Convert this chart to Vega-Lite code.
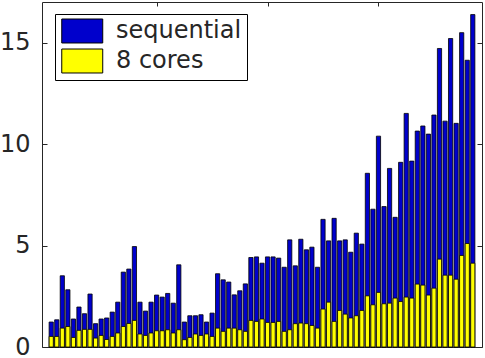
{
  "$schema": "https://vega.github.io/schema/vega-lite/v6.json",
  "width": 440,
  "height": 345,
  "autosize": {"type": "none"},
  "padding": {"left": 42, "top": 2, "right": 3, "bottom": 11},
  "background": "white",
  "config": {"view": {"stroke": null}, "axis": {"domainColor": "#262626", "tickColor": "#262626", "domainWidth": 1, "tickWidth": 1, "zindex": 1, "grid": false, "title": null}},
  "datasets": {
    "bars": [
      {"i":1,"s":"sequential","v":1.23},{"i":2,"s":"sequential","v":1.34},{"i":3,"s":"sequential","v":3.51},{"i":4,"s":"sequential","v":2.82},{"i":5,"s":"sequential","v":1.38},{"i":6,"s":"sequential","v":1.97},{"i":7,"s":"sequential","v":1.64},{"i":8,"s":"sequential","v":2.61},{"i":9,"s":"sequential","v":1.15},{"i":10,"s":"sequential","v":1.38},
      {"i":11,"s":"sequential","v":1.43},{"i":12,"s":"sequential","v":1.72},{"i":13,"s":"sequential","v":2.21},{"i":14,"s":"sequential","v":3.69},{"i":15,"s":"sequential","v":3.84},{"i":16,"s":"sequential","v":4.95},{"i":17,"s":"sequential","v":2.21},{"i":18,"s":"sequential","v":1.77},{"i":19,"s":"sequential","v":2.21},{"i":20,"s":"sequential","v":2.56},
      {"i":21,"s":"sequential","v":2.46},{"i":22,"s":"sequential","v":2.64},{"i":23,"s":"sequential","v":2.16},{"i":24,"s":"sequential","v":4.05},{"i":25,"s":"sequential","v":1.23},{"i":26,"s":"sequential","v":1.54},{"i":27,"s":"sequential","v":1.54},{"i":28,"s":"sequential","v":1.59},{"i":29,"s":"sequential","v":1.23},{"i":30,"s":"sequential","v":1.67},
      {"i":31,"s":"sequential","v":3.61},{"i":32,"s":"sequential","v":3.31},{"i":33,"s":"sequential","v":3.2},{"i":34,"s":"sequential","v":2.57},{"i":35,"s":"sequential","v":2.77},{"i":36,"s":"sequential","v":3.11},{"i":37,"s":"sequential","v":4.41},{"i":38,"s":"sequential","v":4.44},{"i":39,"s":"sequential","v":4.13},{"i":40,"s":"sequential","v":4.44},
      {"i":41,"s":"sequential","v":4.44},{"i":42,"s":"sequential","v":4.38},{"i":43,"s":"sequential","v":3.93},{"i":44,"s":"sequential","v":5.28},{"i":45,"s":"sequential","v":4.0},{"i":46,"s":"sequential","v":5.31},{"i":47,"s":"sequential","v":4.79},{"i":48,"s":"sequential","v":4.92},{"i":49,"s":"sequential","v":3.93},{"i":50,"s":"sequential","v":6.29},
      {"i":51,"s":"sequential","v":5.23},{"i":52,"s":"sequential","v":6.34},{"i":53,"s":"sequential","v":5.23},{"i":54,"s":"sequential","v":5.28},{"i":55,"s":"sequential","v":4.67},{"i":56,"s":"sequential","v":5.61},{"i":57,"s":"sequential","v":5.07},{"i":58,"s":"sequential","v":8.56},{"i":59,"s":"sequential","v":6.79},{"i":60,"s":"sequential","v":10.39},
      {"i":61,"s":"sequential","v":6.92},{"i":62,"s":"sequential","v":8.8},{"i":63,"s":"sequential","v":6.39},{"i":64,"s":"sequential","v":9.1},{"i":65,"s":"sequential","v":11.51},{"i":66,"s":"sequential","v":9.16},{"i":67,"s":"sequential","v":10.64},{"i":68,"s":"sequential","v":10.89},{"i":69,"s":"sequential","v":10.49},{"i":70,"s":"sequential","v":11.43},
      {"i":71,"s":"sequential","v":14.71},{"i":72,"s":"sequential","v":11.13},{"i":73,"s":"sequential","v":15.2},{"i":74,"s":"sequential","v":11.02},{"i":75,"s":"sequential","v":15.49},{"i":76,"s":"sequential","v":14.13},{"i":77,"s":"sequential","v":16.38},
      {"i":1,"s":"8 cores","v":0.52},{"i":2,"s":"8 cores","v":0.52},{"i":3,"s":"8 cores","v":0.93},{"i":4,"s":"8 cores","v":1.01},{"i":5,"s":"8 cores","v":0.47},{"i":6,"s":"8 cores","v":0.82},{"i":7,"s":"8 cores","v":0.87},{"i":8,"s":"8 cores","v":0.87},{"i":9,"s":"8 cores","v":0.44},{"i":10,"s":"8 cores","v":0.57},
      {"i":11,"s":"8 cores","v":0.37},{"i":12,"s":"8 cores","v":0.52},{"i":13,"s":"8 cores","v":0.69},{"i":14,"s":"8 cores","v":1.01},{"i":15,"s":"8 cores","v":1.16},{"i":16,"s":"8 cores","v":1.31},{"i":17,"s":"8 cores","v":0.64},{"i":18,"s":"8 cores","v":0.57},{"i":19,"s":"8 cores","v":0.69},{"i":20,"s":"8 cores","v":0.8},
      {"i":21,"s":"8 cores","v":0.8},{"i":22,"s":"8 cores","v":0.85},{"i":23,"s":"8 cores","v":0.69},{"i":24,"s":"8 cores","v":0.85},{"i":25,"s":"8 cores","v":0.36},{"i":26,"s":"8 cores","v":0.47},{"i":27,"s":"8 cores","v":0.64},{"i":28,"s":"8 cores","v":0.57},{"i":29,"s":"8 cores","v":0.64},{"i":30,"s":"8 cores","v":0.52},
      {"i":31,"s":"8 cores","v":0.93},{"i":32,"s":"8 cores","v":0.77},{"i":33,"s":"8 cores","v":0.93},{"i":34,"s":"8 cores","v":0.93},{"i":35,"s":"8 cores","v":0.85},{"i":36,"s":"8 cores","v":0.77},{"i":37,"s":"8 cores","v":1.31},{"i":38,"s":"8 cores","v":1.26},{"i":39,"s":"8 cores","v":1.38},{"i":40,"s":"8 cores","v":1.21},
      {"i":41,"s":"8 cores","v":1.21},{"i":42,"s":"8 cores","v":1.26},{"i":43,"s":"8 cores","v":0.77},{"i":44,"s":"8 cores","v":0.85},{"i":45,"s":"8 cores","v":1.15},{"i":46,"s":"8 cores","v":1.18},{"i":47,"s":"8 cores","v":1.15},{"i":48,"s":"8 cores","v":1.06},{"i":49,"s":"8 cores","v":0.93},{"i":50,"s":"8 cores","v":1.87},
      {"i":51,"s":"8 cores","v":2.21},{"i":52,"s":"8 cores","v":1.26},{"i":53,"s":"8 cores","v":1.8},{"i":54,"s":"8 cores","v":1.62},{"i":55,"s":"8 cores","v":1.43},{"i":56,"s":"8 cores","v":1.54},{"i":57,"s":"8 cores","v":1.8},{"i":58,"s":"8 cores","v":2.52},{"i":59,"s":"8 cores","v":2.08},{"i":60,"s":"8 cores","v":2.69},
      {"i":61,"s":"8 cores","v":2.13},{"i":62,"s":"8 cores","v":2.16},{"i":63,"s":"8 cores","v":2.41},{"i":64,"s":"8 cores","v":2.24},{"i":65,"s":"8 cores","v":2.46},{"i":66,"s":"8 cores","v":2.41},{"i":67,"s":"8 cores","v":3.1},{"i":68,"s":"8 cores","v":3.05},{"i":69,"s":"8 cores","v":2.56},{"i":70,"s":"8 cores","v":2.9},
      {"i":71,"s":"8 cores","v":4.33},{"i":72,"s":"8 cores","v":3.54},{"i":73,"s":"8 cores","v":3.54},{"i":74,"s":"8 cores","v":3.34},{"i":75,"s":"8 cores","v":4.51},{"i":76,"s":"8 cores","v":5.1},{"i":77,"s":"8 cores","v":4.13}
    ]
  },
  "data": {"name": "bars"},
  "layer": [
    {
      "mark": {"type": "bar", "size": 4.2, "stroke": "black", "strokeWidth": 0.8, "opacity": 1},
      "encoding": {
        "x": {"field": "i", "type": "quantitative", "scale": {"domain": [0.24, 77.76], "nice": false, "zero": false},
              "axis": {"orient": "top", "values": [20, 40, 60], "labels": false, "tickSize": -4, "domain": true}},
        "y": {"field": "v", "type": "quantitative", "stack": null, "scale": {"domain": [0, 17], "nice": false},
              "axis": {"orient": "left", "values": [0, 5, 10, 15], "tickSize": -5, "domain": true, "labelFontSize": 24, "labelFont": "DejaVu Sans", "labelColor": "#262626", "labelPadding": 17}},
        "color": {"field": "s", "type": "nominal", "sort": ["sequential", "8 cores"],
                  "scale": {"domain": ["sequential", "8 cores"], "range": ["#0000cc", "#ffff00"]},
                  "legend": {"orient": "none", "legendX": 13, "legendY": 12, "title": null,
                             "symbolType": "M-1,-1.17H3V1.17H-1Z", "symbolSize": 420, "symbolStrokeColor": "black", "symbolStrokeWidth": 1, "symbolOpacity": 1,
                             "labelFontSize": 24, "labelFont": "DejaVu Sans", "labelColor": "#262626", "labelOffset": 32, "labelLimit": 300,
                             "rowPadding": 2, "padding": 5, "strokeColor": "black", "fillColor": "white"}}
      }
    },
    {
      "mark": {"type": "point", "opacity": 0},
      "encoding": {
        "x": {"field": "i", "type": "quantitative", "scale": {"domain": [0.24, 77.76], "nice": false, "zero": false},
              "axis": {"orient": "bottom", "values": [20, 40, 60], "labels": false, "ticks": false, "domain": true}},
        "y": {"field": "v", "type": "quantitative", "scale": {"domain": [0, 17], "nice": false},
              "axis": {"orient": "right", "values": [0, 5, 10, 15], "labels": false, "tickSize": -5, "domain": true}}
      }
    }
  ],
  "resolve": {"axis": {"x": "independent", "y": "independent"}}
}
